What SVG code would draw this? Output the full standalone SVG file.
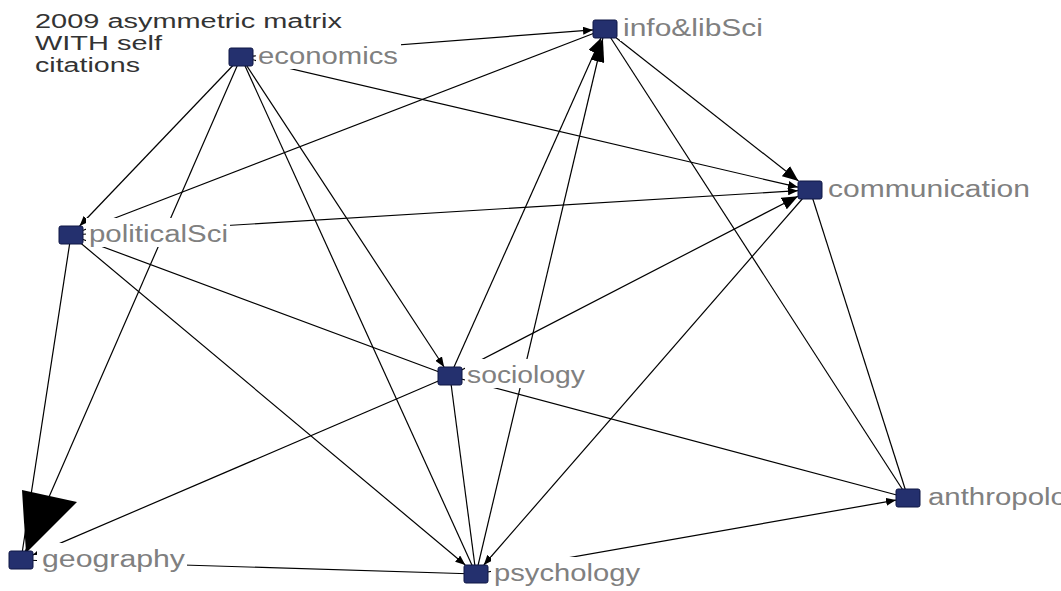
<svg xmlns="http://www.w3.org/2000/svg" width="1061" height="591" viewBox="0 0 1061 591">
  <style>
    .edge { stroke: #000; stroke-width: 1.2; fill: none; }
    .node rect.box { fill: #24306e; stroke: #0f1645; stroke-width: 1; }
    .lblbg { fill: #fff; stroke: none; }
    .lbl { font-family: "Liberation Sans", Arial, sans-serif; font-size: 23px; fill: #808080; }
    .title { font-family: "Liberation Sans", Arial, sans-serif; font-size: 20px; fill: #333; }
  </style>
  <defs>
    <marker id="ah-s" markerUnits="userSpaceOnUse" markerWidth="10" markerHeight="8" refX="10" refY="4" orient="auto">
      <path d="M0,0 L10,4 L0,8 z" fill="#000"/>
    </marker>
    <marker id="ah-m" markerUnits="userSpaceOnUse" markerWidth="16" markerHeight="13" refX="16" refY="6.5" orient="auto">
      <path d="M0,0 L16,6.5 L0,13 z" fill="#000"/>
    </marker>
    <marker id="ah-l" markerUnits="userSpaceOnUse" markerWidth="24" markerHeight="14" refX="24" refY="7" orient="auto">
      <path d="M0,0 L24,7 L0,14 z" fill="#000"/>
    </marker>
  </defs>

  <rect width="1061" height="591" fill="#fff"/>

  <!-- title -->
  <g id="title">
    <text class="title" x="35" y="28" textLength="307" lengthAdjust="spacingAndGlyphs">2009 asymmetric matrix</text>
    <text class="title" x="35" y="50" textLength="127" lengthAdjust="spacingAndGlyphs">WITH self</text>
    <text class="title" x="35" y="72" textLength="105" lengthAdjust="spacingAndGlyphs">citations</text>
  </g>

  <!-- ties -->
  <g id="connectors">
    <path class="edge" d="M241,57 L593,29.9" marker-end="url(#ah-s)"/>
    <path class="edge" d="M241,57 L798,187.2" marker-end="url(#ah-s)"/>
    <path class="edge" d="M241,57 L79.6,226" marker-end="url(#ah-s)"/>
    <path class="edge" d="M241,57 L25,552"/>
    <path class="edge" d="M241,57 L444.1,367" marker-end="url(#ah-s)"/>
    <path class="edge" d="M241,57 L476,574"/>
    <path class="edge" d="M605,29 L798.5,181" marker-end="url(#ah-m)"/>
    <path class="edge" d="M605,29 L908,498"/>
    <path class="edge" d="M476,574 L602.9,38" marker-end="url(#ah-l)"/>
    <path class="edge" d="M71,235 L605,29"/>
    <path class="edge" d="M71,235 L798,190.7" marker-end="url(#ah-s)"/>
    <path class="edge" d="M71,235 L21,560"/>
    <path class="edge" d="M71,235 L450,376"/>
    <path class="edge" d="M71,235 L465.3,565" marker-end="url(#ah-s)"/>
    <path class="edge" d="M450,376 L601,38" marker-end="url(#ah-m)"/>
    <path class="edge" d="M450,376 L798,196.2" marker-end="url(#ah-m)"/>
    <path class="edge" d="M450,376 L33,554.9" marker-end="url(#ah-s)"/>
    <path class="edge" d="M450,376 L476,574"/>
    <path class="edge" d="M450,376 L908,498"/>
    <path class="edge" d="M810,190 L483.8,565" marker-end="url(#ah-s)"/>
    <path class="edge" d="M810,190 L908,498"/>
    <path class="edge" d="M476,574 L896,500.1" marker-end="url(#ah-s)"/>
    <path class="edge" d="M21,560 L476,574"/>
    <!-- heavy tie economics -> geography -->
    <polygon points="22,490 77,502 26,553" fill="#000"/>
  </g>

  <!-- actors -->
  <g id="economics" class="node">
    <rect class="lblbg" x="256" y="40" width="145" height="29"/>
    <rect class="box" x="229" y="48" width="24" height="18" rx="2"/>
    <text class="lbl" x="258" y="64" textLength="140" lengthAdjust="spacingAndGlyphs">economics</text>
  </g>
  <g id="info-libSci" class="node">
    <rect class="lblbg" x="620" y="12" width="145" height="29"/>
    <rect class="box" x="593" y="20" width="24" height="18" rx="2"/>
    <text class="lbl" x="623" y="36" textLength="140" lengthAdjust="spacingAndGlyphs">info&amp;libSci</text>
  </g>
  <g id="communication" class="node">
    <rect class="lblbg" x="825" y="173" width="208" height="29"/>
    <rect class="box" x="798" y="181" width="24" height="18" rx="2"/>
    <text class="lbl" x="828" y="197" textLength="202" lengthAdjust="spacingAndGlyphs">communication</text>
  </g>
  <g id="politicalSci" class="node">
    <rect class="lblbg" x="86" y="218" width="144" height="29"/>
    <rect class="box" x="59" y="226" width="24" height="18" rx="2"/>
    <text class="lbl" x="89" y="242" textLength="139" lengthAdjust="spacingAndGlyphs">politicalSci</text>
  </g>
  <g id="sociology" class="node">
    <rect class="lblbg" x="465" y="359" width="123" height="29"/>
    <rect class="box" x="438" y="367" width="24" height="18" rx="2"/>
    <text class="lbl" x="467" y="383" textLength="118" lengthAdjust="spacingAndGlyphs">sociology</text>
  </g>
  <g id="geography" class="node">
    <rect class="lblbg" x="37" y="543" width="150" height="29"/>
    <rect class="box" x="9" y="551" width="24" height="18" rx="2"/>
    <text class="lbl" x="42" y="567" textLength="143" lengthAdjust="spacingAndGlyphs">geography</text>
  </g>
  <g id="psychology" class="node">
    <rect class="lblbg" x="491" y="557" width="151" height="29"/>
    <rect class="box" x="464" y="565" width="24" height="18" rx="2"/>
    <text class="lbl" x="494" y="581" textLength="146" lengthAdjust="spacingAndGlyphs">psychology</text>
  </g>
  <g id="anthropology" class="node">
    <rect class="lblbg" x="925" y="481" width="136" height="29"/>
    <rect class="box" x="896" y="489" width="24" height="18" rx="2"/>
    <text class="lbl" x="928" y="505" textLength="170" lengthAdjust="spacingAndGlyphs">anthropology</text>
  </g>
</svg>
